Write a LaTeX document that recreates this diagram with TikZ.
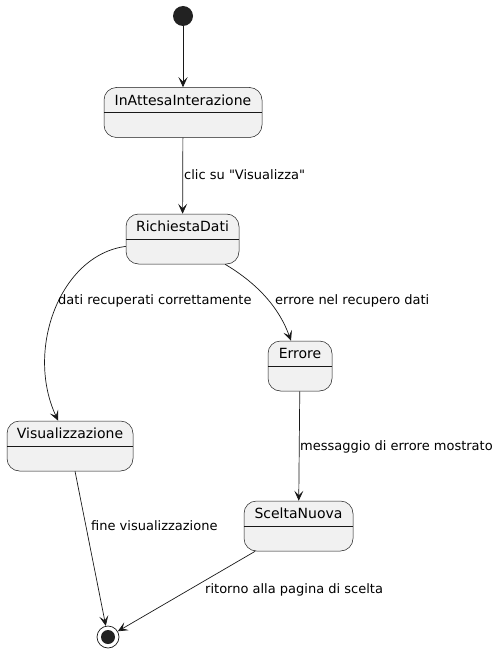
\documentclass[tikz,border=0pt]{standalone}
\usepackage{fontspec}
\setmainfont{DejaVu Sans}[Ligatures=TeXOff]
\usetikzlibrary{arrows.meta}

\definecolor{stateline}{HTML}{181818}
\definecolor{statefill}{HTML}{F1F1F1}
\definecolor{dotfill}{HTML}{222222}

\tikzset{
  state/.style={draw=stateline, fill=statefill, rounded corners=12.5pt,
    minimum height=50pt, inner sep=0pt, line width=0.5pt},
  statename/.style={font=\fontsize{14}{16}\selectfont, inner sep=0pt},
  translabel/.style={font=\fontsize{13}{15}\selectfont, anchor=west, inner sep=0pt},
  trans/.style={draw=stateline, line width=0.7pt,
    -{Stealth[length=10pt,width=9pt,inset=4.5pt]}},
}

\newcommand{\statebox}[5]{%
  \node[state, minimum width=#4pt] (#1) at (#2,#3) {};
  \node[statename] at ([yshift=-13pt]#1.north) {#5};
  \draw[stateline, line width=0.4pt] ([yshift=-25pt]#1.north west) -- ([yshift=-25pt]#1.north east);
}

\begin{document}
\begin{tikzpicture}[x=1pt,y=-1pt]
\useasboundingbox (0,0) rectangle (500,655);

\node[circle, fill=dotfill, minimum size=20pt, inner sep=0pt] (start) at (183,16) {};
\node[circle, draw=stateline, fill=white, line width=0.7pt, minimum size=22pt, inner sep=0pt] (stop) at (108,637) {};
\node[circle, fill=dotfill, minimum size=14pt, inner sep=0pt] at (stop) {};

\statebox{ia}{183}{112.5}{158}{InAttesaInterazione}
\statebox{rd}{182.5}{239}{113}{RichiestaDati}
\statebox{err}{300}{366}{64}{Errore}
\statebox{vis}{70}{446}{126}{Visualizzazione}
\statebox{sn}{298.5}{526}{109}{SceltaNuova}

\draw[trans] (start) -- (ia);
\draw[trans] (ia) -- (rd);
\draw[trans] (rd) .. controls (60,255) and (25,350) .. (vis);
\draw[trans] (rd) .. controls (260,285) and (280,310) .. (err);
\draw[trans] (err) -- (sn);
\draw[trans] (vis) -- (stop);
\draw[trans] (sn) -- (stop);

\node[translabel] at (184,175) {clic su "Visualizza"};
\node[translabel] at (58,301) {dati recuperati correttamente};
\node[translabel] at (275,301) {errore nel recupero dati};
\node[translabel] at (300,447) {messaggio di errore mostrato};
\node[translabel] at (91,526) {fine visualizzazione};
\node[translabel] at (205,590) {ritorno alla pagina di scelta};
\end{tikzpicture}
\end{document}
